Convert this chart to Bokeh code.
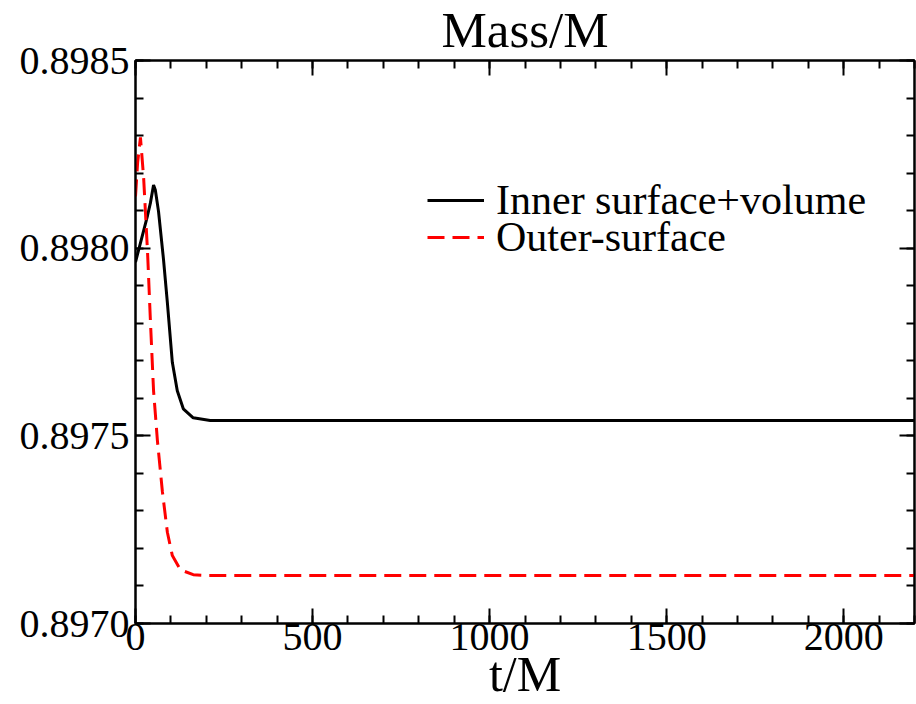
from bokeh.plotting import figure
from bokeh.models import LinearAxis, FixedTicker, PrintfTickFormatter, Legend, LegendItem, Range1d
from bokeh.embed import file_html
from bokeh.resources import INLINE

FONT = "'Liberation Serif', 'Times New Roman', Times, serif"

# ---- data ----
t_inner = [0, 17, 34, 42, 51, 56, 65, 79, 90, 104, 118, 135, 163, 211, 300, 600, 1000, 1400, 1800, 2200]
m_inner = [0.897963, 0.898025, 0.898087, 0.898120, 0.898168, 0.898155, 0.898098, 0.897971,
           0.897855, 0.897696, 0.897620, 0.897572, 0.897548, 0.897541, 0.897541, 0.897541,
           0.897541, 0.897541, 0.897541, 0.897541]
t_outer = [0, 6, 14, 23, 34, 42, 51, 62, 76, 90, 104, 127, 163, 203, 400, 800, 1200, 1600, 2000, 2200]
m_outer = [0.898138, 0.898228, 0.898295, 0.898187, 0.897990, 0.897809, 0.897620, 0.897486,
           0.897351, 0.897243, 0.897181, 0.897143, 0.897130, 0.897128, 0.897128, 0.897128,
           0.897128, 0.897128, 0.897128, 0.897128]

x_major = [0, 500, 1000, 1500, 2000]
x_minor = list(range(0, 2201, 100))
y_major = [0.8970, 0.8975, 0.8980, 0.8985]
y_minor = [0.8970 + 0.0001 * i for i in range(16)]

labels = ["Inner surface+volume", "Outer-surface"]
title_text = "Mass/M"
x_label = "t/M"

p = figure(width=916, height=704, output_backend="svg", toolbar_location=None,
           x_range=Range1d(0, 2200), y_range=Range1d(0.8970, 0.8985),
           min_border_left=135, min_border_right=2, min_border_top=60, min_border_bottom=0)
p.grid.visible = False
p.outline_line_color = "black"
p.outline_line_width = 2

p.title.text = title_text
p.title.text_font = FONT
p.title.text_font_size = "51px"
p.title.text_font_style = "normal"
p.title.text_color = "black"
p.title.align = "center"
p.title.vertical_align = "top"
p.title.standoff = 1
p.title.offset = 0

xt = FixedTicker(ticks=x_major, minor_ticks=x_minor)
yt = FixedTicker(ticks=y_major, minor_ticks=y_minor)

def style(ax, labels_on=True):
    ax.major_tick_in = 15
    ax.major_tick_out = 0
    ax.minor_tick_in = 8
    ax.minor_tick_out = 0
    ax.major_tick_line_width = 2
    ax.minor_tick_line_width = 2
    ax.axis_line_width = 2
    ax.axis_line_color = "black"
    ax.major_tick_line_color = "black"
    ax.minor_tick_line_color = "black"
    ax.major_label_text_font = FONT
    if labels_on:
        ax.major_label_text_color = "black"
        ax.major_label_text_font_size = "40px"
        ax.major_label_standoff = 4
    else:
        ax.major_label_text_color = None
        ax.major_label_text_font_size = "1px"
        ax.major_label_standoff = 0

xa = p.xaxis[0]
xa.ticker = xt
style(xa)
xa.major_label_standoff = 0
xa.axis_label = x_label
xa.axis_label_text_font = FONT
xa.axis_label_text_font_size = "50px"
xa.axis_label_text_font_style = "normal"
xa.axis_label_text_color = "black"
xa.axis_label_standoff = -7

ya = p.yaxis[0]
ya.ticker = yt
ya.formatter = PrintfTickFormatter(format="%.4f")
style(ya)
ya.major_label_standoff = 6

top = LinearAxis(ticker=xt)
style(top, False)
p.add_layout(top, "above")
right = LinearAxis(ticker=yt)
style(right, False)
p.add_layout(right, "right")

r1 = p.line(t_inner, m_inner, line_color="black", line_width=3)
r2 = p.line(t_outer, m_outer, line_color="#ff0000", line_width=3, line_dash="17 8")

common = dict(padding=0, margin=0, glyph_width=57, glyph_height=20, label_standoff=12,
              label_text_font=FONT, label_text_font_size="42px", label_text_color="black",
              border_line_color=None, background_fill_alpha=0)
leg1 = Legend(items=[LegendItem(label=labels[0], renderers=[r1])], location=(292, 399), **common)
leg2 = Legend(items=[LegendItem(label=labels[1], renderers=[r2])], location=(292, 362), **common)
p.add_layout(leg1, "center")
p.add_layout(leg2, "center")

open("out.html", "w").write(file_html(p, INLINE))
